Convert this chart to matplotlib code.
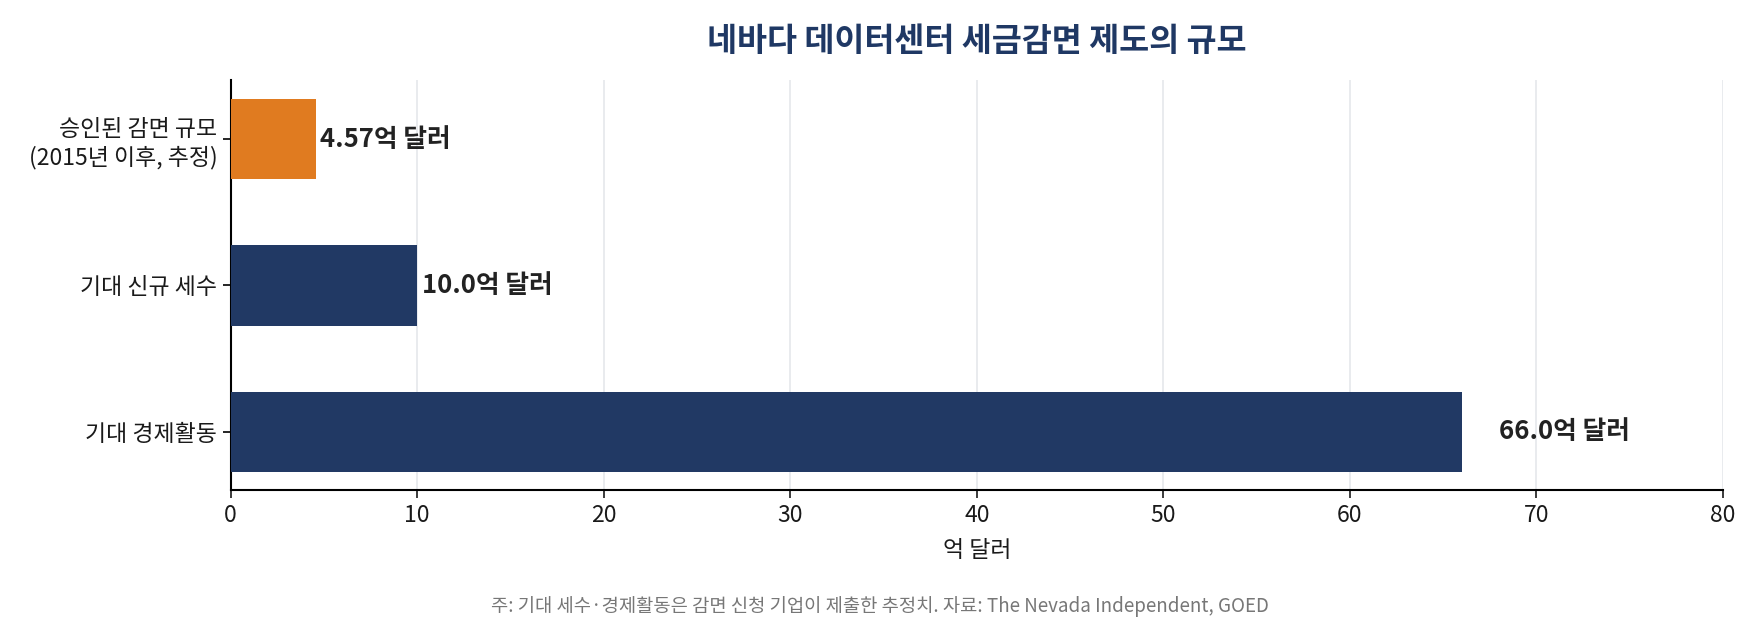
import matplotlib
matplotlib.use("Agg")
import matplotlib.pyplot as plt

plt.rcParams['font.family'] = ['Noto Sans CJK KR', 'DejaVu Sans']

categories = ["승인된 감면 규모\n(2015년 이후, 추정)", "기대 신규 세수", "기대 경제활동"]
values = [4.57, 10.0, 66.0]
value_labels = ["4.57억 달러", "10.0억 달러", "66.0억 달러"]
colors = ["#E07B20", "#213964", "#213964"]
xticks = [0, 10, 20, 30, 40, 50, 60, 70, 80]

fig = plt.figure(figsize=(17.6, 6.24), dpi=100)
ax = fig.add_axes([0.131, 0.214, 0.848, 0.657])

ypos = list(range(len(categories)))
ax.barh(ypos, values, height=0.55, color=colors, zorder=3)
ax.set_yticks(ypos)
ax.set_yticklabels(categories, fontsize=16.5, color="#1a1a1a", linespacing=1.25)
ax.set_ylim(2.4, -0.4)
ax.set_xlim(0, 80)
ax.set_xticks(xticks)
ax.tick_params(axis='x', labelsize=16.5, colors="#1a1a1a", length=6, width=1.2)
ax.tick_params(axis='y', length=6, width=1.2)
ax.grid(axis='x', color="#e5e7eb", linewidth=1.2, zorder=0)
ax.spines['top'].set_visible(False)
ax.spines['right'].set_visible(False)
ax.spines['left'].set_linewidth(1.5)
ax.spines['bottom'].set_linewidth(1.5)
ax.set_xlabel("억 달러", fontsize=16.5, color="#1a1a1a", labelpad=9)

for y, v, lab in zip(ypos, values, value_labels):
    off = 2.0 if v > 50 else 0.25
    ax.text(v + off, y, lab, va='center', ha='left', fontsize=18.5,
            fontweight='bold', color="#222222", zorder=4)

ax.set_title("네바다 데이터센터 세금감면 제도의 규모", fontsize=23.5, fontweight='bold',
             color="#1F3864", pad=21)

fig.text(0.5, 0.012, "주: 기대 세수·경제활동은 감면 신청 기업이 제출한 추정치. 자료: The Nevada Independent, GOED",
         ha='center', va='bottom', fontsize=13.5, color="#777777")

fig.savefig("out.png", dpi=100)
